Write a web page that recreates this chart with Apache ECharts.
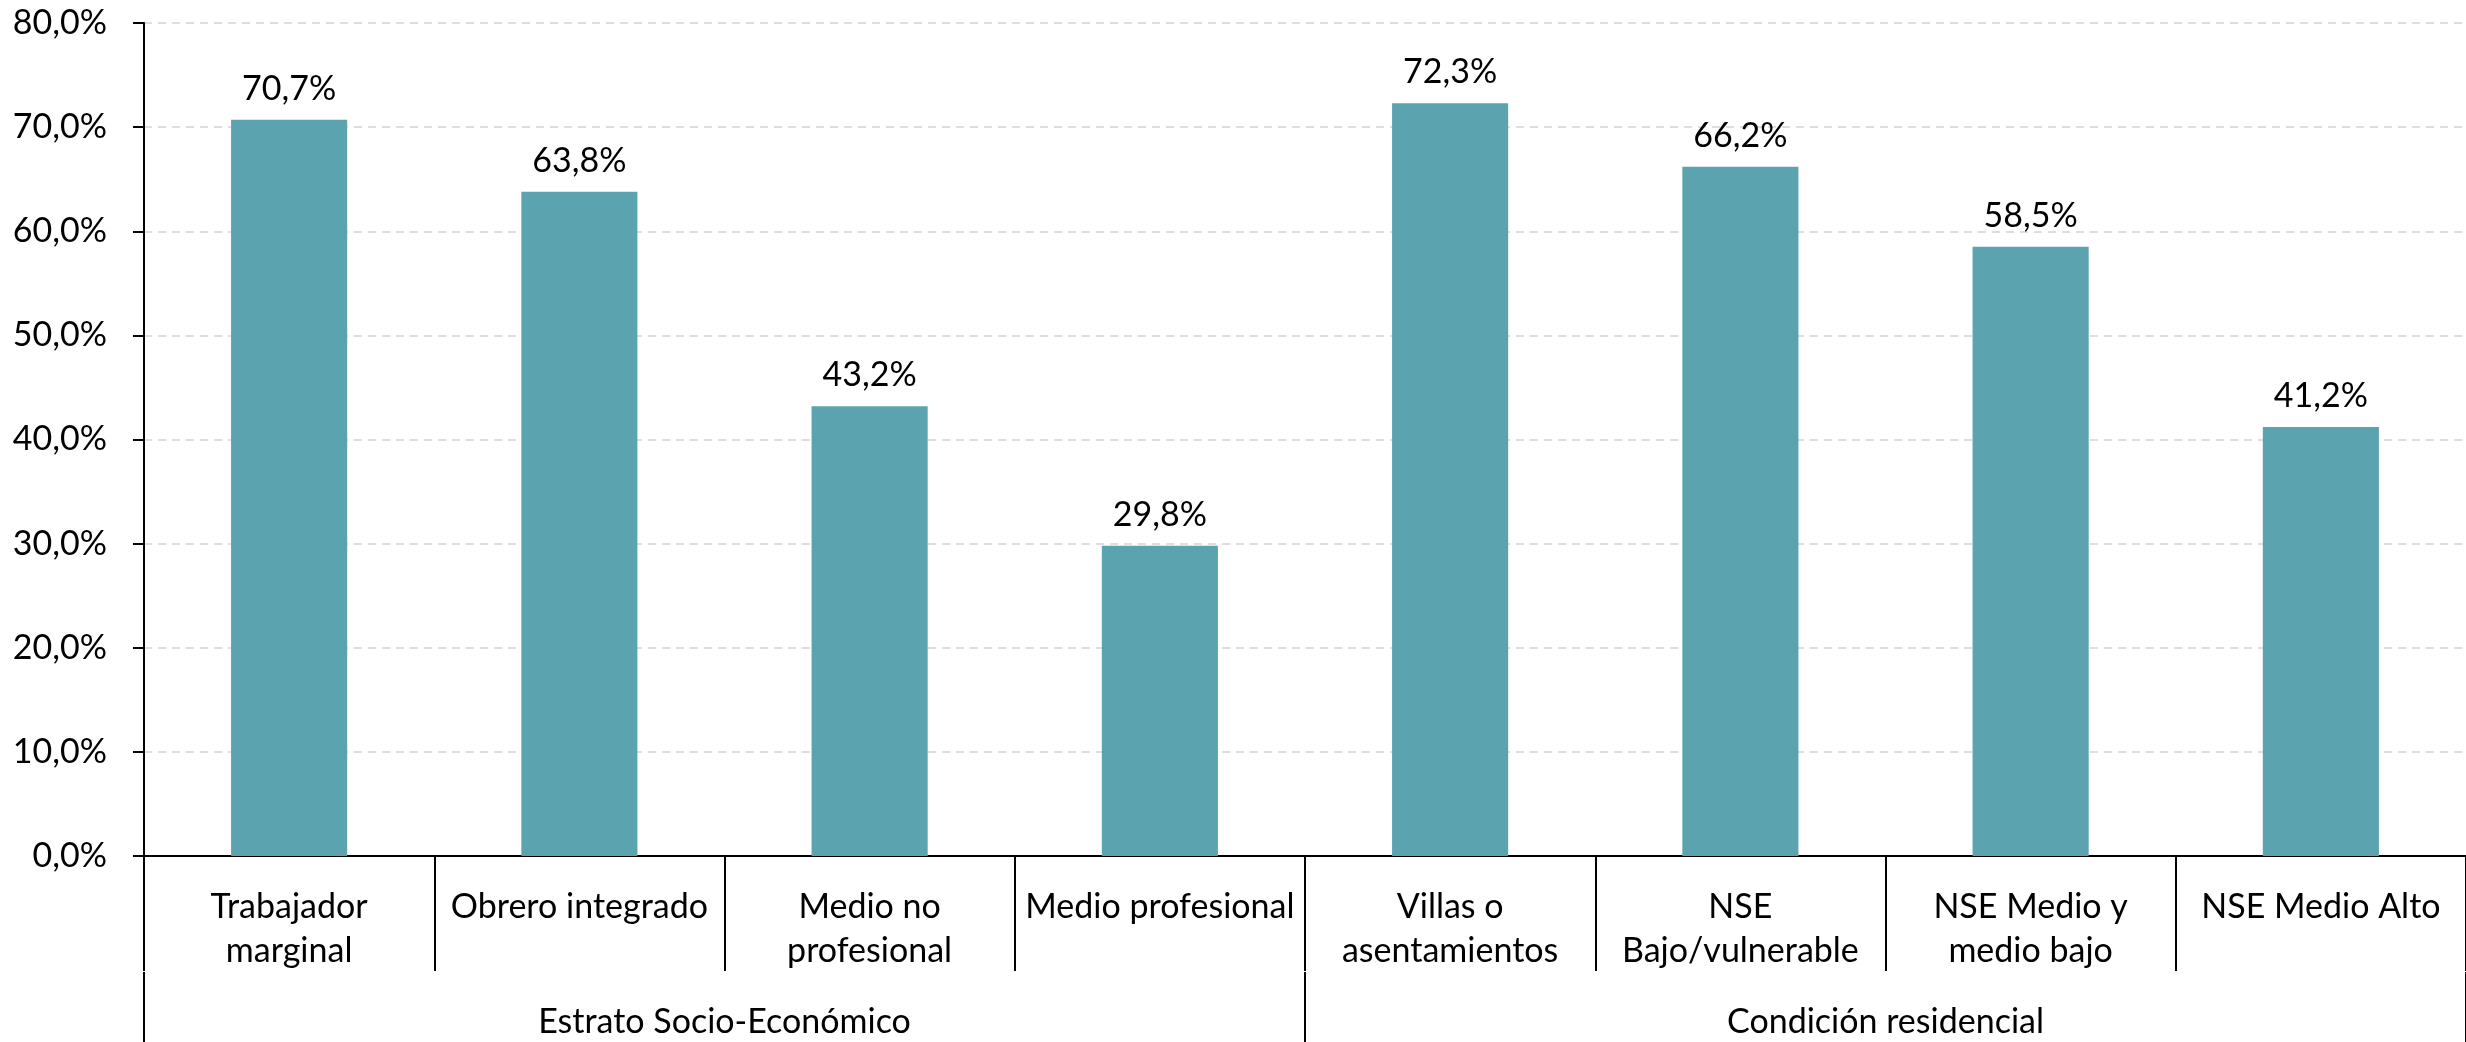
<!DOCTYPE html>
<html>
<head>
<meta charset="utf-8">
<script src="https://cdn.jsdelivr.net/npm/echarts@6/dist/echarts.min.js"></script>
<style>
html,body{margin:0;padding:0;background:#fff;}
#chart{width:2466px;height:1042px;}
</style>
</head>
<body>
<div id="chart"></div>
<script>
const categories = ['Trabajador\nmarginal', 'Obrero integrado', 'Medio no\nprofesional', 'Medio profesional', 'Villas o\nasentamientos', 'NSE\nBajo/vulnerable', 'NSE Medio y\nmedio bajo', 'NSE Medio Alto'];
const groups = ['Estrato Socio-Económico', 'Condición residencial'];
const values = [70.7, 63.8, 43.2, 29.8, 72.3, 66.2, 58.5, 41.2];
const yTicks = [0, 10, 20, 30, 40, 50, 60, 70, 80];

const FONT = 'Lato';
const FS = 34;
const fmt = v => v.toFixed(1).replace('.', ',') + '%';

const chart = echarts.init(document.getElementById('chart'));
chart.setOption({
  animation: false,
  backgroundColor: '#fff',
  textStyle: { fontFamily: FONT },
  grid: { left: 144, right: 0, top: 23, bottom: 185, containLabel: false },
  xAxis: [
    {
      type: 'category',
      data: categories,
      position: 'bottom',
      axisLine: { show: true, lineStyle: { color: '#000', width: 2 } },
      axisTick: { show: true, interval: 0, length: 115, lineStyle: { color: '#000', width: 2 } },
      axisLabel: { interval: 0, margin: 29, color: '#000', fontSize: FS, fontFamily: FONT, lineHeight: 44 },
      splitLine: { show: false }
    },
    {
      type: 'category',
      data: groups,
      position: 'bottom',
      offset: 116,
      axisLine: { show: false },
      axisTick: { show: true, interval: 0, length: 75, lineStyle: { color: '#000', width: 2 } },
      axisLabel: { interval: 0, margin: 30, color: '#000', fontSize: FS, fontFamily: FONT, lineHeight: 40 },
      splitLine: { show: false }
    }
  ],
  yAxis: {
    type: 'value',
    min: yTicks[0],
    max: yTicks[yTicks.length - 1],
    interval: 10,
    axisLine: { show: true, lineStyle: { color: '#000', width: 2 } },
    axisTick: { show: true, length: 11, lineStyle: { color: '#000', width: 2 } },
    axisLabel: { color: '#000', fontSize: FS, fontFamily: FONT, margin: 37, formatter: v => fmt(v) },
    splitLine: { show: true, lineStyle: { color: '#d4d4d4', type: [8, 6], width: 1.5 } }
  },
  series: [{
    type: 'bar',
    xAxisIndex: 0,
    data: values,
    barWidth: '40%',
    itemStyle: { color: '#5BA3AE' },
    label: {
      show: true,
      position: 'top',
      distance: 14,
      color: '#000',
      fontSize: FS,
      fontFamily: FONT,
      formatter: p => fmt(p.value)
    }
  }]
});
</script>
</body>
</html>
